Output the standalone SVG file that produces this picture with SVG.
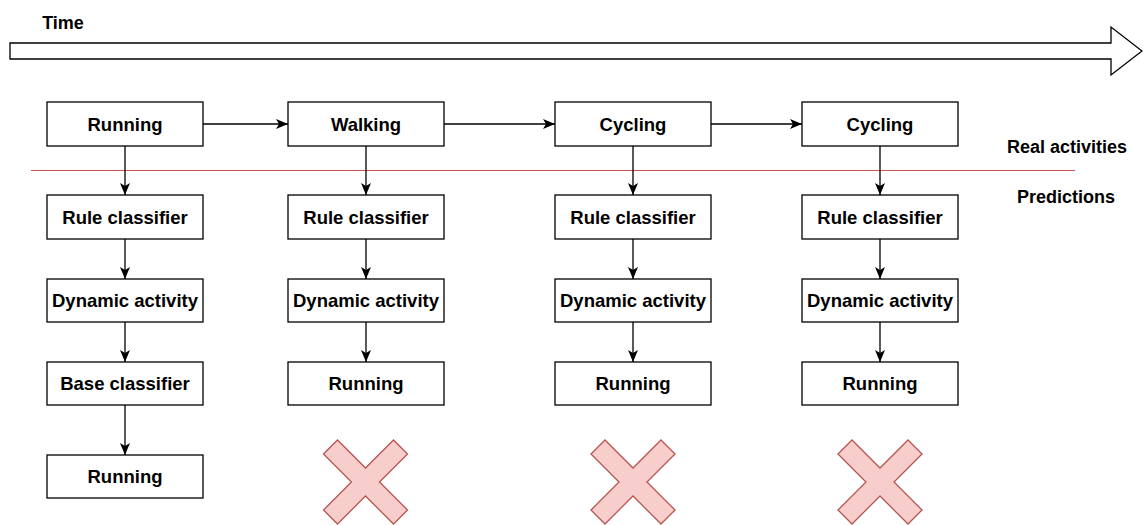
<svg xmlns="http://www.w3.org/2000/svg" width="1143" height="525" viewBox="0 0 1143 525">
  <style>
    .box { fill: #ffffff; stroke: #000000; stroke-width: 1.3; }
    .lbl { font-family: "Liberation Sans", Arial, Helvetica, sans-serif; font-weight: bold; font-size: 18.5px; fill: #000000; text-anchor: middle; }
    .side { font-family: "Liberation Sans", Arial, Helvetica, sans-serif; font-weight: bold; font-size: 18px; fill: #000000; text-anchor: middle; }
    .edge { fill: none; stroke: #000000; stroke-width: 1.3; }
    .cross { fill: #f8cecc; stroke: #b85450; stroke-width: 1.3; }
  </style>
  <defs>
    <marker id="arrow" markerWidth="14" markerHeight="12" refX="12" refY="6" orient="auto" markerUnits="userSpaceOnUse">
      <path d="M0,1 L12,6 L0,11 L3,6 Z" fill="#000000"/>
    </marker>
    <polygon id="xmark" points="-42,-28 -28,-42 0,-14 28,-42 42,-28 14,0 42,28 28,42 0,14 -28,42 -42,28 -14,0"/>
  </defs>
  <rect width="1143" height="525" fill="#ffffff"/>

  <!-- time axis -->
  <g id="time">
    <text class="side" x="63" y="29">Time</text>
    <polygon points="10,43 1111,43 1111,27 1142,51 1111,75 1111,59 10,59" fill="#ffffff" stroke="#000000" stroke-width="1.3"/>
  </g>

  <!-- separator between real activities and predictions -->
  <g id="separator">
    <line x1="31" y1="170.5" x2="1075" y2="170.5" stroke="#d05050" stroke-width="1.2"/>
    <text class="side" x="1067" y="153">Real activities</text>
    <text class="side" x="1066" y="203">Predictions</text>
  </g>

  <!-- column 1 -->
  <g id="real1"><rect class="box" x="47" y="102" width="156" height="44"/><text class="lbl" x="125" y="130.5">Running</text></g>
  <g id="rule1"><rect class="box" x="47" y="195" width="156" height="44"/><text class="lbl" x="125" y="223.5">Rule classifier</text></g>
  <g id="dyn1"><rect class="box" x="47" y="279" width="156" height="43"/><text class="lbl" x="125" y="307">Dynamic activity</text></g>
  <g id="base1"><rect class="box" x="47" y="362" width="156" height="43"/><text class="lbl" x="125" y="390">Base classifier</text></g>
  <g id="pred1"><rect class="box" x="47" y="455" width="156" height="43"/><text class="lbl" x="125" y="483">Running</text></g>

  <!-- column 2 -->
  <g id="real2"><rect class="box" x="288" y="102" width="156" height="44"/><text class="lbl" x="366" y="130.5">Walking</text></g>
  <g id="rule2"><rect class="box" x="288" y="195" width="156" height="44"/><text class="lbl" x="366" y="223.5">Rule classifier</text></g>
  <g id="dyn2"><rect class="box" x="288" y="279" width="156" height="43"/><text class="lbl" x="366" y="307">Dynamic activity</text></g>
  <g id="pred2"><rect class="box" x="288" y="362" width="156" height="43"/><text class="lbl" x="366" y="390">Running</text></g>
  <g id="wrong2"><use href="#xmark" class="cross" x="365.5" y="482"/></g>

  <!-- column 3 -->
  <g id="real3"><rect class="box" x="555" y="102" width="156" height="44"/><text class="lbl" x="633" y="130.5">Cycling</text></g>
  <g id="rule3"><rect class="box" x="555" y="195" width="156" height="44"/><text class="lbl" x="633" y="223.5">Rule classifier</text></g>
  <g id="dyn3"><rect class="box" x="555" y="279" width="156" height="43"/><text class="lbl" x="633" y="307">Dynamic activity</text></g>
  <g id="pred3"><rect class="box" x="555" y="362" width="156" height="43"/><text class="lbl" x="633" y="390">Running</text></g>
  <g id="wrong3"><use href="#xmark" class="cross" x="633" y="482"/></g>

  <!-- column 4 -->
  <g id="real4"><rect class="box" x="802" y="102" width="156" height="44"/><text class="lbl" x="880" y="130.5">Cycling</text></g>
  <g id="rule4"><rect class="box" x="802" y="195" width="156" height="44"/><text class="lbl" x="880" y="223.5">Rule classifier</text></g>
  <g id="dyn4"><rect class="box" x="802" y="279" width="156" height="43"/><text class="lbl" x="880" y="307">Dynamic activity</text></g>
  <g id="pred4"><rect class="box" x="802" y="362" width="156" height="43"/><text class="lbl" x="880" y="390">Running</text></g>
  <g id="wrong4"><use href="#xmark" class="cross" x="880" y="482"/></g>

  <!-- connectors -->
  <g id="connectors" class="edge" marker-end="url(#arrow)">
    <line x1="203" y1="124" x2="288" y2="124"/>
    <line x1="444" y1="124" x2="555" y2="124"/>
    <line x1="711" y1="124" x2="802" y2="124"/>

    <line x1="125" y1="146" x2="125" y2="195"/>
    <line x1="125" y1="239" x2="125" y2="279"/>
    <line x1="125" y1="322" x2="125" y2="362"/>
    <line x1="125" y1="405" x2="125" y2="455"/>

    <line x1="366" y1="146" x2="366" y2="195"/>
    <line x1="366" y1="239" x2="366" y2="279"/>
    <line x1="366" y1="322" x2="366" y2="362"/>

    <line x1="633" y1="146" x2="633" y2="195"/>
    <line x1="633" y1="239" x2="633" y2="279"/>
    <line x1="633" y1="322" x2="633" y2="362"/>

    <line x1="880" y1="146" x2="880" y2="195"/>
    <line x1="880" y1="239" x2="880" y2="279"/>
    <line x1="880" y1="322" x2="880" y2="362"/>
  </g>
</svg>
